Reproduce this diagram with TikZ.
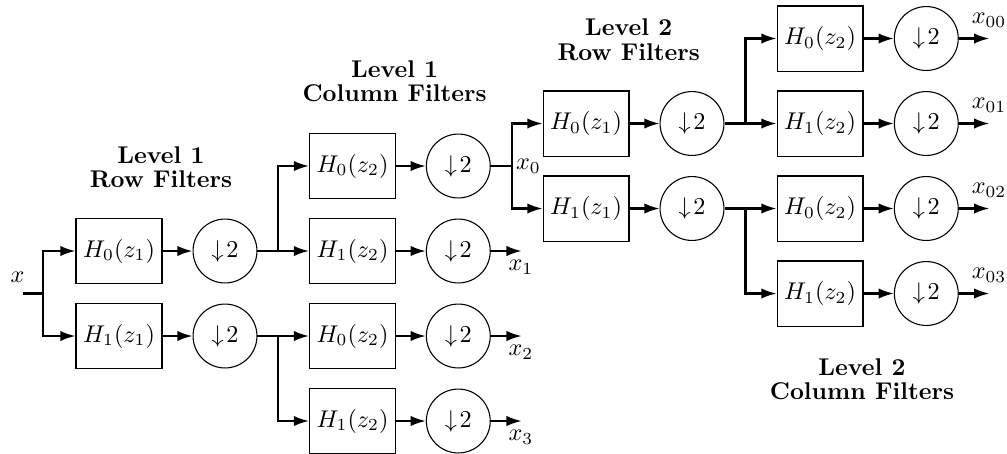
\documentclass[tikz,border=0pt]{standalone}
\usetikzlibrary{arrows.meta}
\begin{document}
\begin{tikzpicture}[x=0.4132pt,y=-0.4132pt]
\tikzset{
 filt/.style={draw, line width=0.45pt, minimum width=35.5pt, minimum height=26.9pt, inner sep=0pt},
 dsamp/.style={draw, circle, line width=0.45pt, minimum size=26.4pt, inner sep=0pt},
 conn/.style={line width=0.85pt, -{Latex[length=6.3pt,width=4.3pt]}},
 wire/.style={line width=0.85pt},
 ttl/.style={font=\bfseries, align=center, inner sep=0pt},
 lbl/.style={inner sep=0pt},
}
\useasboundingbox (0,0) rectangle (1007,453);

% Level 1 row filters
\node[filt] (r1a) at (119,251) {$H_0(z_1)$};
\node[filt] (r1b) at (119,336) {$H_1(z_1)$};
\node[dsamp] (c1a) at (225,251) {$\downarrow\!2$};
\node[dsamp] (c1b) at (225,336) {$\downarrow\!2$};

% Level 1 column filters
\node[filt] (k1a) at (352.5,166) {$H_0(z_2)$};
\node[filt] (k1b) at (352.5,251) {$H_1(z_2)$};
\node[filt] (k1c) at (352.5,336) {$H_0(z_2)$};
\node[filt] (k1d) at (352.5,421) {$H_1(z_2)$};
\node[dsamp] (d1a) at (458.3,166) {$\downarrow\!2$};
\node[dsamp] (d1b) at (458.3,251) {$\downarrow\!2$};
\node[dsamp] (d1c) at (458.3,336) {$\downarrow\!2$};
\node[dsamp] (d1d) at (458.3,421) {$\downarrow\!2$};

% Level 2 row filters
\node[filt] (r2a) at (586,123.5) {$H_0(z_1)$};
\node[filt] (r2b) at (586,208.5) {$H_1(z_1)$};
\node[dsamp] (c2a) at (692,123.5) {$\downarrow\!2$};
\node[dsamp] (c2b) at (692,208.5) {$\downarrow\!2$};

% Level 2 column filters
\node[filt] (k2a) at (820,38.5) {$H_0(z_2)$};
\node[filt] (k2b) at (820,123.5) {$H_1(z_2)$};
\node[filt] (k2c) at (820,208.5) {$H_0(z_2)$};
\node[filt] (k2d) at (820,293.5) {$H_1(z_2)$};
\node[dsamp] (d2a) at (926.3,38.5) {$\downarrow\!2$};
\node[dsamp] (d2b) at (926.3,123.5) {$\downarrow\!2$};
\node[dsamp] (d2c) at (926.3,208.5) {$\downarrow\!2$};
\node[dsamp] (d2d) at (926.3,293.5) {$\downarrow\!2$};

% titles
\node[ttl] (t1) at (161,167.5) {Level 1\\[-2pt]Row Filters};
\node[ttl] (t2) at (394.6,81) {Level 1\\[-2pt]Column Filters};
\node[ttl] (t3) at (628.7,39.7) {Level 2\\[-2pt]Row Filters};
\node[ttl] (t4) at (862,379) {Level 2\\[-2pt]Column Filters};

% coordinates
\coordinate (in) at (23,293.5);
\coordinate (s0) at (43.3,293.5);
\coordinate (s1) at (277.7,251);
\coordinate (s2) at (277.7,336);
\coordinate (s3) at (511.7,166);
\coordinate (s4) at (745.5,123.5);
\coordinate (s5) at (745.5,208.5);
\coordinate (o1) at (521.7,251);
\coordinate (o2) at (521.7,336);
\coordinate (o3) at (521.7,421);
\coordinate (o00) at (989.3,38.5);
\coordinate (o01) at (989.3,123.5);
\coordinate (o02) at (989.3,208.5);
\coordinate (o03) at (989.3,293.5);

% labels
\node[lbl] (lx) at (17.5,277) {$x$};
\node[lbl] (lx0) at (528.5,166.5) {$x_0$};
\node[lbl] (lx1) at (521,267.5) {$x_1$};
\node[lbl] (lx2) at (521,352.5) {$x_2$};
\node[lbl] (lx3) at (521,437.5) {$x_3$};
\node[lbl] (lx00) at (989,20.5) {$x_{00}$};
\node[lbl] (lx01) at (989,105.5) {$x_{01}$};
\node[lbl] (lx02) at (989,190.5) {$x_{02}$};
\node[lbl] (lx03) at (989,275.5) {$x_{03}$};

% connectors level 1 rows
\draw[wire] (in) -- (s0);
\draw[conn] (s0) |- (r1a);
\draw[conn] (s0) |- (r1b);
\draw[conn] (r1a) -- (c1a);
\draw[conn] (r1b) -- (c1b);

% level 1 columns
\draw[conn] (c1a) -- (k1b);
\draw[conn] (s1) |- (k1a);
\draw[conn] (c1b) -- (k1c);
\draw[conn] (s2) |- (k1d);
\draw[conn] (k1a) -- (d1a);
\draw[conn] (k1b) -- (d1b);
\draw[conn] (k1c) -- (d1c);
\draw[conn] (k1d) -- (d1d);
\draw[conn] (d1b) -- (o1);
\draw[conn] (d1c) -- (o2);
\draw[conn] (d1d) -- (o3);

% level 2 rows
\draw[wire] (d1a) -- (s3);
\draw[conn] (s3) |- (r2a);
\draw[conn] (s3) |- (r2b);
\draw[conn] (r2a) -- (c2a);
\draw[conn] (r2b) -- (c2b);

% level 2 columns
\draw[conn] (c2a) -- (k2b);
\draw[conn] (s4) |- (k2a);
\draw[conn] (c2b) -- (k2c);
\draw[conn] (s5) |- (k2d);
\draw[conn] (k2a) -- (d2a);
\draw[conn] (k2b) -- (d2b);
\draw[conn] (k2c) -- (d2c);
\draw[conn] (k2d) -- (d2d);
\draw[conn] (d2a) -- (o00);
\draw[conn] (d2b) -- (o01);
\draw[conn] (d2c) -- (o02);
\draw[conn] (d2d) -- (o03);
\end{tikzpicture}
\end{document}
